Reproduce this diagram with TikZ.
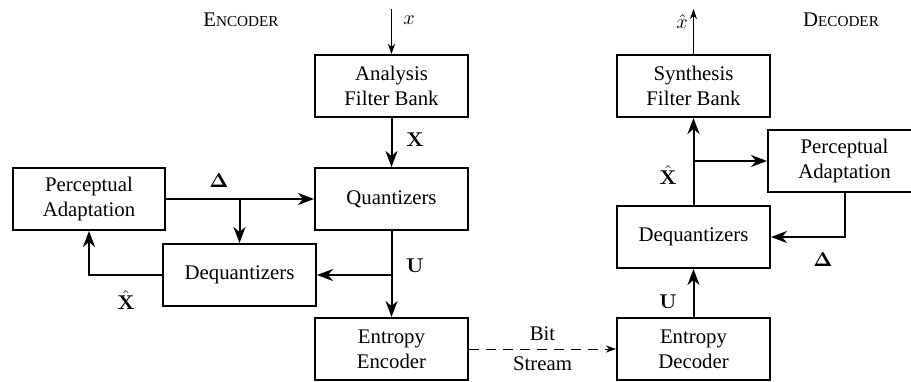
\documentclass[tikz,border=0pt]{standalone}
\usepackage[no-math]{fontspec}
\setmainfont{Liberation Serif}
\usepackage{amsmath}
\usepackage{tikz}
\usetikzlibrary{arrows.meta,calc,positioning}
\tikzset{>={Stealth[length=8pt,width=6pt,inset=2.5pt]}}

\begin{document}
\begin{tikzpicture}[x=0.5pt,y=-0.5pt,font=\fontsize{10.4}{12.5}\selectfont]

        % Setup the styles for the blocks and the signals
        \tikzset{block style/.style={draw=black,
                                     line width=1pt,
                                     minimum width=76.5pt,
                                     minimum height=31pt,
                                     inner sep=0pt,
                                     align=center},
                 signal/.style={line width=1pt,->},
                 thin signal/.style={line width=0.5pt,
                                     ->,>={Stealth[length=5pt,width=3.5pt,inset=1.5pt]}}}

        \useasboundingbox (0,0) rectangle (911,381);

        % Draw the blocks
        \node[block style] at (391.5, 86)  (afb)  {Analysis\\Filter Bank};
        \node[block style] at (391.5, 199) (quant) {Quantizers};
        \node[block style, minimum width=76pt] at (89, 199) (pal) {Perceptual\\Adaptation};
        \node[block style] at (239.5, 275) (dql)  {Dequantizers};
        \node[block style] at (391.5, 349) (ence) {Entropy\\Encoder};

        \node[block style] at (693.5, 86)  (sfb)  {Synthesis\\Filter Bank};
        \node[block style] at (844.5, 161) (par)  {Perceptual\\Adaptation};
        \node[block style] at (693.5, 237) (dqr)  {Dequantizers};
        \node[block style] at (693.5, 349) (encd) {Entropy\\Decoder};

        % Titles and free ends
        \node at (241, 20) (enc) {E{\fontsize{7.6}{9}\selectfont NCODER}};
        \node at (841, 20) (dec) {D{\fontsize{7.6}{9}\selectfont ECODER}};
        \coordinate (xin) at (391.5, 9);
        \coordinate (xout) at (693.5, 9);

        % Connect the blocks (encoder)
        \draw[thin signal] (xin) -- (afb.north);
        \node at (409, 20) (xlab) {$x$};
        \draw[signal] (afb) -- (quant);
        \node at (415, 140) (xblab) {$\mathbf{X}$};
        \draw[signal] (pal.east) -- (quant.west);
        \node at (219, 181) (dllab) {$\mathbf{\Delta}$};
        \draw[signal] (dql.north |- pal.east) -- (dql.north);
        \draw[signal] (quant) -- (ence);
        \draw[signal] (quant.south |- dql.east) -- (dql.east);
        \node at (415, 266) (ulab) {$\mathbf{U}$};
        \draw[signal] (dql.west) -| (pal.south);
        \node at (126, 300) (xhlab) {$\hat{\mathbf{X}}$};
        \draw[thin signal, dash pattern=on 5pt off 3.5pt] (ence) --
            node[above=0.5pt] {Bit} node[below=0.5pt] {Stream} (encd);

        % Connect the blocks (decoder)
        \draw[signal] (encd) -- (dqr);
        \node at (668, 302) (urlab) {$\mathbf{U}$};
        \draw[signal] (dqr) -- (sfb);
        \draw[signal] (sfb.south |- par.west) -- (par.west);
        \node at (668, 175) (xhrlab) {$\hat{\mathbf{X}}$};
        \draw[signal] (par.south) |- (dqr.east);
        \node at (823, 260) (drlab) {$\mathbf{\Delta}$};
        \draw[thin signal] (sfb.north) -- (xout);
        \node at (682, 22) (xhout) {$\hat{x}$};
    \end{tikzpicture}
\end{document}
